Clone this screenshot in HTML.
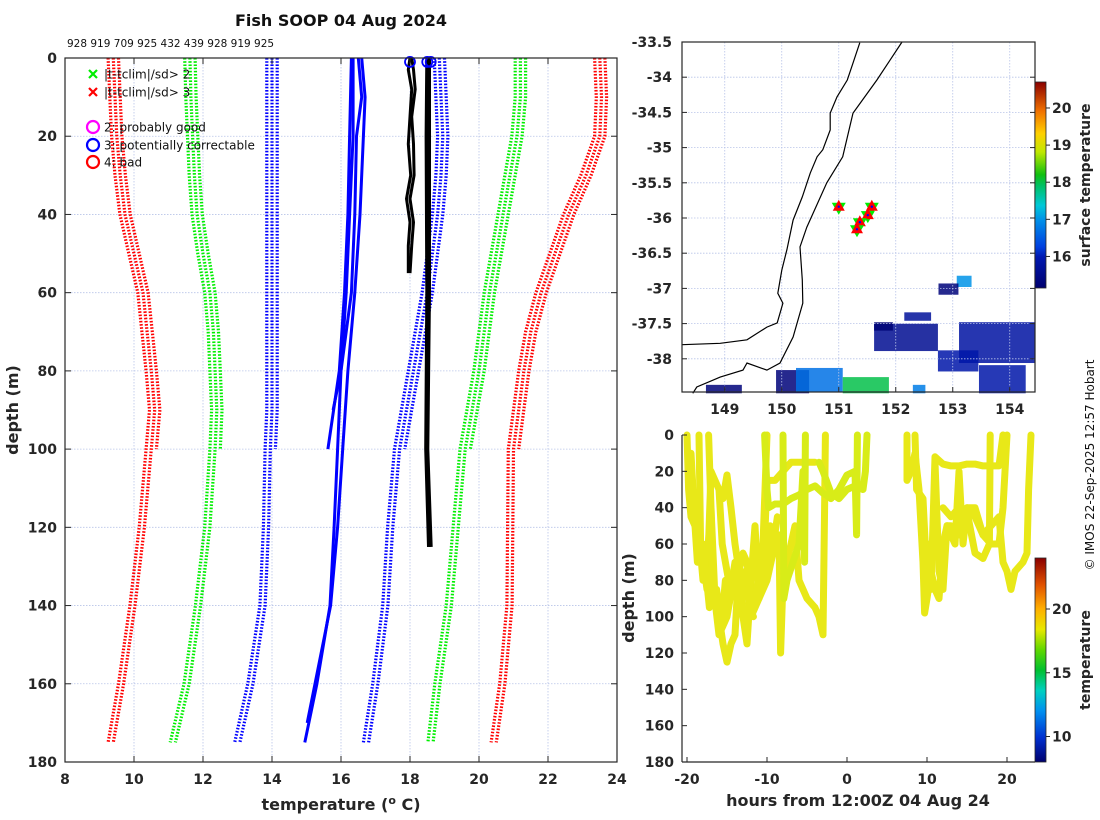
<!DOCTYPE html>
<html><head><meta charset="utf-8"><style>
body{margin:0;background:#fff;}
svg{display:block;font-family:"DejaVu Sans","Liberation Sans",sans-serif;}
.tk{font-size:14px;font-weight:bold;fill:#262626;}
</style></head><body>
<svg id="fig" width="1100" height="820" viewBox="0 0 1100 820" xmlns="http://www.w3.org/2000/svg">
<defs>
<linearGradient id="sstGrad" x1="0" y1="1" x2="0" y2="0">
<stop offset="0" stop-color="#00006e"/><stop offset="0.15" stop-color="#0018b0"/><stop offset="0.2" stop-color="#0040e0"/><stop offset="0.33" stop-color="#0090e8"/><stop offset="0.4" stop-color="#00c8d8"/><stop offset="0.5" stop-color="#00c060"/><stop offset="0.55" stop-color="#10c010"/><stop offset="0.66" stop-color="#c0e800"/><stop offset="0.75" stop-color="#ffd000"/><stop offset="0.86" stop-color="#f07000"/><stop offset="1" stop-color="#8a0000"/>
</linearGradient>
<linearGradient id="tGrad" x1="0" y1="1" x2="0" y2="0">
<stop offset="0" stop-color="#00006e"/><stop offset="0.12" stop-color="#0030d0"/><stop offset="0.25" stop-color="#0090f0"/><stop offset="0.35" stop-color="#00d0c0"/><stop offset="0.45" stop-color="#00c030"/><stop offset="0.55" stop-color="#60d800"/><stop offset="0.65" stop-color="#e8e800"/><stop offset="0.75" stop-color="#ffb000"/><stop offset="0.87" stop-color="#e05000"/><stop offset="1" stop-color="#8a0000"/>
</linearGradient>
</defs>
<text x="341" y="26" text-anchor="middle" font-size="16" font-weight="bold" fill="#111">Fish SOOP 04 Aug 2024</text>
<text x="67" y="47" font-size="10.5" fill="#111">928 919 709 925 432 439 928 919 925</text>
<g id="left"></g>
<g id="map"></g>
<g id="bottom"></g>
<text transform="translate(1094,465) rotate(-90)" text-anchor="middle" font-size="12" fill="#111">© IMOS 22-Sep-2025 12:57 Hobart</text>
</svg>
<script>
// ---------- Profile plot data ----------
const climDepths = [0,10,20,30,40,50,60,70,80,90,100,120,140,160,175];
const redLeft   = [9.4,9.45,9.5,9.6,9.74,10.0,10.26,10.38,10.5,10.6,10.5,10.3,10.03,9.7,9.4];
const greenLeft = [11.62,11.65,11.7,11.75,11.83,12.0,12.2,12.3,12.35,12.4,12.35,12.2,11.93,11.6,11.2];
const blueLeft  = [14.0,14.0,14.0,14.0,14.0,14.0,14.0,14.0,14.0,14.0,13.95,13.9,13.8,13.45,13.07];
const blueRight = [18.85,18.9,18.95,18.9,18.8,18.65,18.5,18.3,18.1,17.9,17.7,17.5,17.36,17.07,16.8];
const greenRight= [21.2,21.2,21.1,20.9,20.7,20.5,20.3,20.15,20.0,19.8,19.6,19.4,19.2,18.87,18.67];
const redRight  = [23.5,23.55,23.5,23.1,22.6,22.2,21.8,21.5,21.3,21.15,21.0,20.98,20.96,20.75,20.5];
const bundleOffsets = [-0.15,0.0,0.15];
const bundleMaxDepth = [175,175,100];
const meanDepthsA = [0,20,40,60,80,100,120,140,160,175];
const meanTempA   = [16.35,16.35,16.25,16.15,16.0,15.9,15.8,15.68,15.3,14.95];
const meanDepthsB = [0,20,40,60,80,100];
const meanTempB   = [16.3,16.25,16.2,16.1,15.95,15.62];
const meanDepthsC = [0,10,20,40,60,80,90];
const meanTempC   = [16.5,16.6,16.45,16.4,16.3,16.0,15.77];
const meanDepthsD = [0,10,20,40,60,80,100,120,140,170];
const meanTempD   = [16.6,16.7,16.65,16.55,16.4,16.2,16.05,15.9,15.7,15.02];
const obsDepths1 = [0,3,8,15,22,30,36,42,48,55];
const obsTemp1   = [18.0,17.95,18.05,18.0,17.95,18.02,17.9,18.0,17.95,17.95];
const obsTemp1b  = [18.05,18.1,18.15,18.05,18.1,18.12,18.0,18.1,18.05,18.0];
const obsDepths2 = [0,20,60,100,125];
const obsTemp2   = [18.55,18.55,18.55,18.5,18.6];
const obsTemp2b  = [18.5,18.48,18.5,18.47,18.55];
const flagTemps  = [18.0,18.5,18.6];
const flagDepths = [1,1,1];
const tempTicks = [8,10,12,14,16,18,20,22,24];
const depthTicks = [0,20,40,60,80,100,120,140,160,180];

// ---------- Map data ----------
const lonTicks = [149,150,151,152,153,154];
const latTicks = [-33.5,-34,-34.5,-35,-35.5,-36,-36.5,-37,-37.5,-38];
const coastLon = [151.37,151.25,151.15,150.97,150.85,150.85,150.72,150.62,150.5,150.36,150.2,150.09,150.0,149.93,150.02,149.92,149.74,149.39,148.92,148.25];
const coastLat = [-33.51,-33.8,-34.04,-34.28,-34.51,-34.75,-35.03,-35.13,-35.36,-35.7,-36.03,-36.45,-36.74,-37.07,-37.21,-37.49,-37.55,-37.73,-37.78,-37.8];
const shelfLon = [152.11,151.67,151.25,151.07,150.79,150.44,150.32,150.36,150.37,150.2,149.97,149.74,149.39,149.32,148.92,148.51,148.44];
const shelfLat = [-33.5,-34.04,-34.51,-35.13,-35.5,-36.13,-36.41,-36.88,-37.21,-37.69,-38.06,-38.16,-38.06,-38.16,-38.26,-38.4,-38.49];
const stationLon = [151.0,151.58,151.51,151.37,151.32];
const stationLat = [-35.84,-35.84,-35.96,-36.06,-36.16];
const sstLon0 = [153.11,153.46,151.62,151.62,152.15,152.74,149.9,150.25,151.07,148.67,153.07,152.75,152.3];
const sstLon1 = [154.44,154.28,152.74,151.95,152.62,153.45,150.48,151.07,151.88,149.3,153.33,153.1,152.52];
const sstLat0 = [-37.48,-38.09,-37.5,-37.48,-37.34,-37.88,-38.16,-38.13,-38.26,-38.37,-36.82,-36.93,-38.37];
const sstLat1 = [-38.06,-38.49,-37.89,-37.6,-37.46,-38.18,-38.49,-38.47,-38.49,-38.49,-36.98,-37.09,-38.49];
const sstTemp = [15.8,15.9,15.6,15.25,15.7,15.9,15.3,16.7,18.0,15.3,17.0,15.3,16.8];
const sstTicks = [16,17,18,19,20];

// ---------- Depth-time data ----------
const trackHours = [
 [-20,-19.8,-19.5,-18.5,-18,-17.5,-17,-16.5,-16,-15.5,-15,-14.5,-14,-13.5,-13,-12.5,-12,-11.5,-11,-10.5,-10],
 [-18.5,-18.3,-17.5,-17,-16.5,-16,-15.5,-15,-14.5,-14,-13.5,-13,-12.5,-12,-11,-10.5,-10,-9,-8,-7,-6,-5,-4],
 [-17.3,-17,-16.8,-16,-15,-14.2,-13,-12,-11,-10,-9,-8.5,-8.3,-8,-7,-6.5,-6,-5,-4,-3.5,-3,-2.8,-2.7],
 [-10.3,-10,-9.8,-9,-8,-7,-6,-5,-4,-3,-2,-1,0,1,1.2,1.3],
 [-8,-7.9,-7.5,-6,-5.5,-5.3,-5.2],
 [-3.5,-3,-2,-1,0,1,2,2.3,2.5],
 [7.5,7.5,8,8.5,9,9.5,9.7,10,10.5,11,11.5,12,12.5,13,14,15,16,17,18,19,19.5,20,20.5,21,22,22.5,22.7,23],
 [8.5,8.7,9.5,10,10.3,10.5,11,12,13,14,15,16,17,18,19,19.5],
 [11,11.5,12,12.5,13.5,14,14.5,15,16,17,18,19,19.5,20],
 [12,13,14,15,16,17,17.8,17.9],
 [-19.5,-19,-18.7,-18,-17.2,-16.3,-15.7,-15.2,-14.7,-14,-13.3,-12.7,-12.2,-11.7],
 [-16,-15.6,-14.8,-13.9,-13.2,-12.4,-11.6,-10.8,-10.2,-9.6,-9.2,-8.7]
];
const trackDepths = [
 [0,30,45,55,80,70,40,90,100,115,125,115,110,70,100,115,80,50,90,60,0],
 [0,60,85,20,25,30,35,22,40,60,75,65,70,90,85,80,25,25,20,15,15,15,15],
 [0,40,80,110,100,80,95,100,90,80,60,55,120,80,60,50,80,90,95,100,110,40,0],
 [0,30,40,38,38,35,33,30,28,32,35,30,22,20,55,0],
 [0,90,80,60,20,70,0],
 [15,20,32,35,30,28,30,20,0],
 [0,25,20,10,30,70,98,90,75,85,90,60,50,50,55,40,45,55,50,45,70,75,85,75,70,65,30,0],
 [0,30,35,80,60,85,12,16,17,17,16,16,17,17,17,0],
 [15,75,85,50,60,20,60,40,40,55,60,60,40,0],
 [40,45,40,42,65,68,60,0],
 [10,50,70,60,95,85,105,80,90,70,85,75,95,100],
 [30,60,80,75,90,85,95,70,75,50,60,45]
];
const trackTemps = [19.2,19.2,19.0,18.3,18.8,18.4,19.0,19.0,19.0,19.0,19.1,19.1];
const hourTicks = [-20,-10,0,10,20];
const depthTicks2 = [0,20,40,60,80,100,120,140,160,180];
const tempCbTicks = [10,15,20];
</script>
<script>
const NS='http://www.w3.org/2000/svg';
function mk(parent,tag,attrs,text){const e=document.createElementNS(NS,tag);for(const k in attrs)e.setAttribute(k,attrs[k]);if(text!==undefined)e.textContent=text;parent.appendChild(e);return e;}
const L=document.getElementById('left'),M=document.getElementById('map'),B=document.getElementById('bottom');

// ===== Left profile plot =====
const lx0=65,lx1=617,ly0=58,ly1=762;
const xT=t=>lx0+(t-8)*(lx1-lx0)/16;
const yD=d=>ly0+d*(ly1-ly0)/180;
tempTicks.forEach(t=>{if(t>8&&t<24){const g=mk(L,'line',{x1:xT(t),x2:xT(t),y1:ly0,y2:ly1,stroke:'#b8c4e8','stroke-width':0.8,'stroke-dasharray':'1.5 1.5'});}});
depthTicks.forEach(d=>{if(d>0&&d<180){const g=mk(L,'line',{x1:lx0,x2:lx1,y1:yD(d),y2:yD(d),stroke:'#b8c4e8','stroke-width':0.8,'stroke-dasharray':'1.5 1.5'});}});
function pathFrom(xs,ys,fx,fy){return xs.map((v,i)=>(i?'L':'M')+fx(v).toFixed(1)+' '+fy(ys[i]).toFixed(1)).join(' ');}
function bundle(temps,color,name){
  bundleOffsets.forEach((off,k)=>{
    const dd=[],tt=[];
    climDepths.forEach((d,i)=>{if(d<=bundleMaxDepth[k]){dd.push(d);tt.push(temps[i]+off);}});
    const p=mk(L,'path',{d:pathFrom(tt,dd,xT,yD),fill:'none',stroke:color,'stroke-width':3.2,'stroke-dasharray':'1.6 1.6'});
    
    
  });
}
bundle(redLeft,'#ff0000','clim-minus-3sd-line');
bundle(greenLeft,'#00ee00','clim-minus-2sd-line');
bundle(blueLeft,'#0000ff','clim-minus-1sd-line');
bundle(blueRight,'#0000ff','clim-plus-1sd-line');
bundle(greenRight,'#00ee00','clim-plus-2sd-line');
bundle(redRight,'#ff0000','clim-plus-3sd-line');
[[meanTempA,meanDepthsA],[meanTempB,meanDepthsB],[meanTempC,meanDepthsC],[meanTempD,meanDepthsD]].forEach(([t,d])=>{
  const p=mk(L,'path',{d:pathFrom(t,d,xT,yD),fill:'none',stroke:'#0000ff','stroke-width':3,'stroke-linejoin':'round'});
  
  
});
[[obsTemp1,obsDepths1],[obsTemp1b,obsDepths1]].forEach(([t,d])=>{
  const p=mk(L,'path',{d:pathFrom(t,d,xT,yD),fill:'none',stroke:'#000','stroke-width':3,'stroke-linejoin':'round'});
  
  
});
[[obsTemp2,obsDepths2],[obsTemp2b,obsDepths2]].forEach(([t,d])=>{
  const p=mk(L,'path',{d:pathFrom(t,d,xT,yD),fill:'none',stroke:'#000','stroke-width':4,'stroke-linejoin':'round'});
  
  
});
flagTemps.forEach((t,i)=>{
  const c=mk(L,'circle',{cx:xT(t),cy:yD(flagDepths[i]),r:5,fill:'none',stroke:'#0000ff','stroke-width':1.8});
  
  
});
const lb=mk(L,'rect',{x:lx0,y:ly0,width:lx1-lx0,height:ly1-ly0,fill:'none',stroke:'#262626','stroke-width':1.2});

tempTicks.forEach(t=>{
  mk(L,'line',{x1:xT(t),x2:xT(t),y1:ly1,y2:ly1-6,stroke:'#262626'});mk(L,'line',{x1:xT(t),x2:xT(t),y1:ly0,y2:ly0+6,stroke:'#262626'});
  const e=mk(L,'text',{x:xT(t),y:ly1+22,'text-anchor':'middle',class:'tk'},String(t));
  
});
depthTicks.forEach(d=>{
  mk(L,'line',{x1:lx0,x2:lx0+6,y1:yD(d),y2:yD(d),stroke:'#262626'});mk(L,'line',{x1:lx1,x2:lx1-6,y1:yD(d),y2:yD(d),stroke:'#262626'});
  const e=mk(L,'text',{x:lx0-8,y:yD(d)+5,'text-anchor':'end',class:'tk'},String(d));
  
});
let e=mk(L,'text',{x:341,y:810,'text-anchor':'middle','font-size':16,'font-weight':'bold',fill:'#262626'});
e.innerHTML='temperature (<tspan dy="-6" font-size="11">o</tspan><tspan dy="6"> C)</tspan>';

e=mk(L,'text',{transform:'translate(18,410) rotate(-90)','text-anchor':'middle','font-size':16,'font-weight':'bold',fill:'#262626'},'depth (m)');

const lg=mk(L,'g',{});
[['x','#00ee00',74,'|t-tclim|/sd> 2'],['x','#ff0000',92,'|t-tclim|/sd> 3'],['o','#ff00ff',127,'2: probably good'],['o','#0000ff',145,'3: potentially correctable'],['o','#ff0000',162,'4: bad']].forEach(([m,c,y,t])=>{
  if(m==='x'){mk(lg,'path',{d:`M89 ${y-4}L97 ${y+4}M97 ${y-4}L89 ${y+4}`,stroke:c,'stroke-width':2.2});}
  else mk(lg,'circle',{cx:93,cy:y,r:6,fill:'none',stroke:c,'stroke-width':2.2});
  const le=mk(lg,'text',{x:104,y:y+4.5,'font-size':12,fill:'#111'},t);
  
});

// ===== Map =====
const mx0=682,mx1=1035,my0=42,my1=392;
const xL=lon=>mx0+(lon-148.25)*57;
const yL=lat=>my0+(-33.5-lat)*70.4;
function sstColor(t){const f=Math.max(0,Math.min(1,(t-15.15)/(20.7-15.15)));
 const st=[[0,[0,0,110]],[0.15,[0,24,176]],[0.2,[0,64,224]],[0.33,[0,144,232]],[0.4,[0,200,216]],[0.5,[0,192,96]],[0.55,[16,192,16]],[0.66,[192,232,0]],[0.75,[255,208,0]],[0.86,[240,112,0]],[1,[138,0,0]]];
 for(let i=1;i<st.length;i++){if(f<=st[i][0]){const a=st[i-1],b=st[i],u=(f-a[0])/(b[0]-a[0]);return 'rgb('+a[1].map((v,j)=>Math.round(v+(b[1][j]-v)*u)).join(',')+')';}}return 'rgb(138,0,0)';}
sstTemp.forEach((t,i)=>{
  const r=mk(M,'rect',{x:xL(sstLon0[i]),y:yL(sstLat0[i]),width:xL(sstLon1[i])-xL(sstLon0[i]),height:yL(sstLat1[i])-yL(sstLat0[i]),fill:sstColor(t),opacity:0.85});
  
});
lonTicks.forEach(lo=>{const g=mk(M,'line',{x1:xL(lo),x2:xL(lo),y1:my0,y2:my1,stroke:'#b8c4e8','stroke-width':0.8,'stroke-dasharray':'1.5 1.5'});});
latTicks.forEach(la=>{const g=mk(M,'line',{x1:mx0,x2:mx1,y1:yL(la),y2:yL(la),stroke:'#b8c4e8','stroke-width':0.8,'stroke-dasharray':'1.5 1.5'});});
e=mk(M,'path',{d:pathFrom(coastLon,coastLat,xL,yL),fill:'none',stroke:'#000','stroke-width':1.2});
e=mk(M,'path',{d:pathFrom(shelfLon,shelfLat,xL,yL),fill:'none',stroke:'#000','stroke-width':1.2});
stationLon.forEach((lo,i)=>{
  const x=xL(lo),y=yL(stationLat[i]);
  const g=mk(M,'g',{});
  mk(g,'path',{d:`M${x-7} ${y-4}L${x+7} ${y-4}L${x} ${y+8}Z`,fill:'#00ee00'});
  mk(g,'path',{d:`M${x-6} ${y+4}L${x+6} ${y+4}L${x} ${y-7}Z`,fill:'#ff0000'});
  mk(g,'circle',{cx:x,cy:y,r:1.2,fill:'#0000ff'});
});
e=mk(M,'rect',{x:mx0,y:my0,width:mx1-mx0,height:my1-my0,fill:'none',stroke:'#262626','stroke-width':1.2});
lonTicks.forEach(lo=>{mk(M,'line',{x1:xL(lo),x2:xL(lo),y1:my1,y2:my1-5,stroke:'#262626'});
 const t=mk(M,'text',{x:xL(lo),y:my1+22,'text-anchor':'middle',class:'tk'},String(lo));});
latTicks.forEach(la=>{mk(M,'line',{x1:mx0,x2:mx0+5,y1:yL(la),y2:yL(la),stroke:'#262626'});mk(M,'line',{x1:mx1,x2:mx1-5,y1:yL(la),y2:yL(la),stroke:'#262626'});
 const t=mk(M,'text',{x:mx0-10,y:yL(la)+5,'text-anchor':'end',class:'tk'},String(la));});
const cbY=t=>288-(t-15.15)*(288-82)/(20.7-15.15);
e=mk(M,'rect',{x:1035,y:82,width:11,height:206,fill:'url(#sstGrad)',stroke:'#262626','stroke-width':0.8});
sstTicks.forEach(t=>{mk(M,'line',{x1:1046,x2:1050,y1:cbY(t),y2:cbY(t),stroke:'#262626'});
 const l=mk(M,'text',{x:1052,y:cbY(t)+5,class:'tk','font-size':13},String(t));});
e=mk(M,'text',{transform:'translate(1090,185) rotate(-90)','text-anchor':'middle','font-size':14,'font-weight':'bold',fill:'#262626'},'surface temperature');

// ===== Depth-time plot =====
const bx0=682,bx1=1035,by0=435,by1=762;
const xH=h=>847+h*8;
const yB=d=>by0+d*(by1-by0)/180;
const tcY=t=>762-(t-8)*(762-558)/(24-8);
function tColor(t){return t>=19?'#e8e818':'#d8ec18';}
trackHours.forEach((hs,i)=>{
  const p=mk(B,'path',{d:pathFrom(hs,trackDepths[i],xH,yB),fill:'none',stroke:tColor(trackTemps[i]),'stroke-width':7,'stroke-linejoin':'round','stroke-linecap':'round'});
  
  
});
mk(B,'line',{x1:bx0,x2:bx0,y1:by0,y2:by1,stroke:'#262626','stroke-width':1.2});
mk(B,'line',{x1:bx0,x2:bx1,y1:by1,y2:by1,stroke:'#262626','stroke-width':1.2});
hourTicks.forEach(h=>{mk(B,'line',{x1:xH(h),x2:xH(h),y1:by1,y2:by1-5,stroke:'#262626'});
 const t=mk(B,'text',{x:xH(h),y:by1+22,'text-anchor':'middle',class:'tk'},String(h));});
depthTicks2.forEach(d=>{mk(B,'line',{x1:bx0,x2:bx0+5,y1:yB(d),y2:yB(d),stroke:'#262626'});
 const t=mk(B,'text',{x:bx0-8,y:yB(d)+5,'text-anchor':'end',class:'tk'},String(d));});
e=mk(B,'text',{x:858,y:806,'text-anchor':'middle','font-size':16,'font-weight':'bold',fill:'#262626'},'hours from 12:00Z 04 Aug 24');
e=mk(B,'text',{transform:'translate(634,598) rotate(-90)','text-anchor':'middle','font-size':16,'font-weight':'bold',fill:'#262626'},'depth (m)');
e=mk(B,'rect',{x:1035,y:558,width:11,height:204,fill:'url(#tGrad)',stroke:'#262626','stroke-width':0.8});
tempCbTicks.forEach(t=>{mk(B,'line',{x1:1046,x2:1050,y1:tcY(t),y2:tcY(t),stroke:'#262626'});
 const l=mk(B,'text',{x:1052,y:tcY(t)+5,class:'tk','font-size':13},String(t));});
e=mk(B,'text',{transform:'translate(1090,660) rotate(-90)','text-anchor':'middle','font-size':14,'font-weight':'bold',fill:'#262626'},'temperature');
</script>
</body></html>
